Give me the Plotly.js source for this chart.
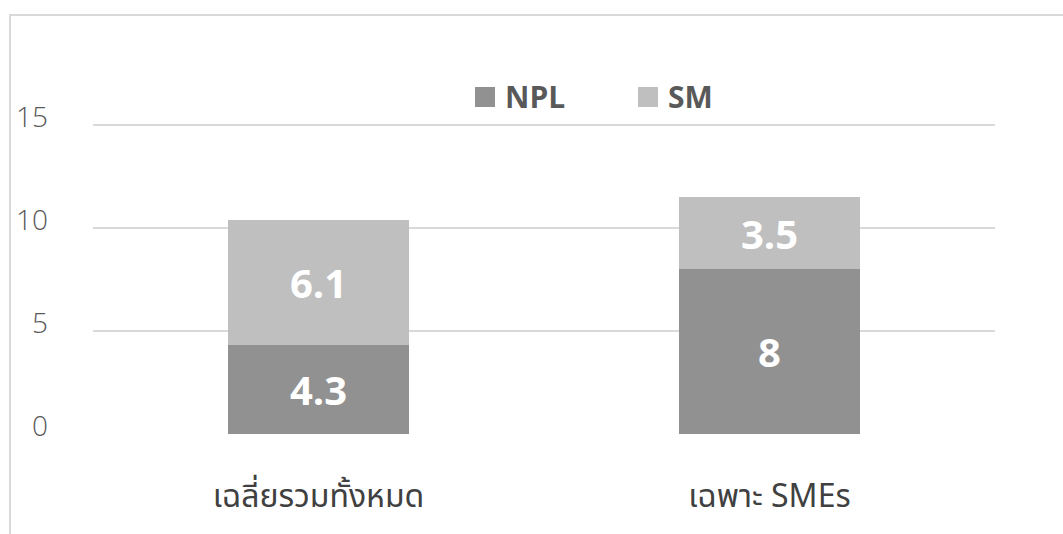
<!DOCTYPE html>
<html>
<head>
<meta charset="utf-8">
<script src="https://cdn.plot.ly/plotly-3.0.1.min.js"></script>
<style>
html,body{margin:0;padding:0;background:#fff;}
#wrap{position:relative;width:1063px;height:534px;}
#chart{width:1063px;height:534px;}
#frame{position:absolute;left:9px;top:14px;right:-5px;bottom:-5px;border-top:2px solid #d9d9d9;border-left:2px solid #d9d9d9;pointer-events:none;}
</style>
</head>
<body>
<div id="wrap"><div id="chart"></div><div id="frame"></div></div>
<script>
const categories = ["เฉลี่ยรวมทั้งหมด", "เฉพาะ SMEs"];
const npl = [4.3, 8];
const sm = [6.1, 3.5];
const nplLabels = ["4.3", "8"];
const smLabels = ["6.1", "3.5"];
const tickVals = [0, 5, 10, 15];
const seriesNames = ["NPL", "SM"];

const FONT = "'Open Sans', 'Noto Sans', 'DejaVu Sans', sans-serif";
const THAI = "'Noto Sans Thai', 'Noto Sans', 'DejaVu Sans', sans-serif";
const colors = ["#919191", "#bfbfbf"];

const labelFont = {family: FONT, size: 40, color: "#ffffff", weight: 700};

const traces = [
  {type: "bar", name: seriesNames[0], x: categories, y: npl, text: nplLabels,
   textposition: "inside", insidetextanchor: "middle", textangle: 0,
   textfont: labelFont, marker: {color: colors[0]}, hoverinfo: "none", cliponaxis: false},
  {type: "bar", name: seriesNames[1], x: categories, y: sm, text: smLabels,
   textposition: "inside", insidetextanchor: "middle", textangle: 0,
   textfont: labelFont, marker: {color: colors[1]}, hoverinfo: "none", cliponaxis: false}
];

const legendFont = {family: FONT, size: 30, color: "#595959", weight: 700};

const layout = {
  width: 1063, height: 534,
  margin: {l: 93, r: 68, t: 22, b: 100},
  barmode: "stack",
  bargap: 0.6,
  showlegend: false,
  paper_bgcolor: "#ffffff",
  plot_bgcolor: "#ffffff",
  xaxis: {
    type: "category",
    tickfont: {family: THAI, size: 32, color: "#404040"},
    showgrid: false, zeroline: false, showline: false, ticks: "",
    ticklabelstandoff: 40
  },
  yaxis: {
    range: [0, 20],
    tickvals: tickVals,
    ticktext: tickVals.map(String),
    tickfont: {family: FONT, size: 28, color: "#595959", weight: 300},
    showgrid: true, gridcolor: "#d9d9d9", gridwidth: 2,
    zeroline: false, showline: false, ticks: "",
    ticklabelstandoff: 44,
    ticklabelshift: -8
  },
  shapes: [
    {type: "rect", xref: "paper", yref: "paper", x0: 0.4235, x1: 0.4457, y0: 0.7937, y1: 0.8422,
     fillcolor: colors[0], line: {width: 0}},
    {type: "rect", xref: "paper", yref: "paper", x0: 0.6042, x1: 0.6264, y0: 0.7937, y1: 0.8422,
     fillcolor: colors[1], line: {width: 0}}
  ],
  annotations: [
    {xref: "paper", yref: "paper", x: 0.4545, y: 0.818, xanchor: "left", yanchor: "middle",
     text: seriesNames[0], showarrow: false, font: legendFont},
    {xref: "paper", yref: "paper", x: 0.6353, y: 0.818, xanchor: "left", yanchor: "middle",
     text: seriesNames[1], showarrow: false, font: legendFont}
  ]
};

Plotly.newPlot("chart", traces, layout, {displayModeBar: false, staticPlot: true});
</script>
</body>
</html>
